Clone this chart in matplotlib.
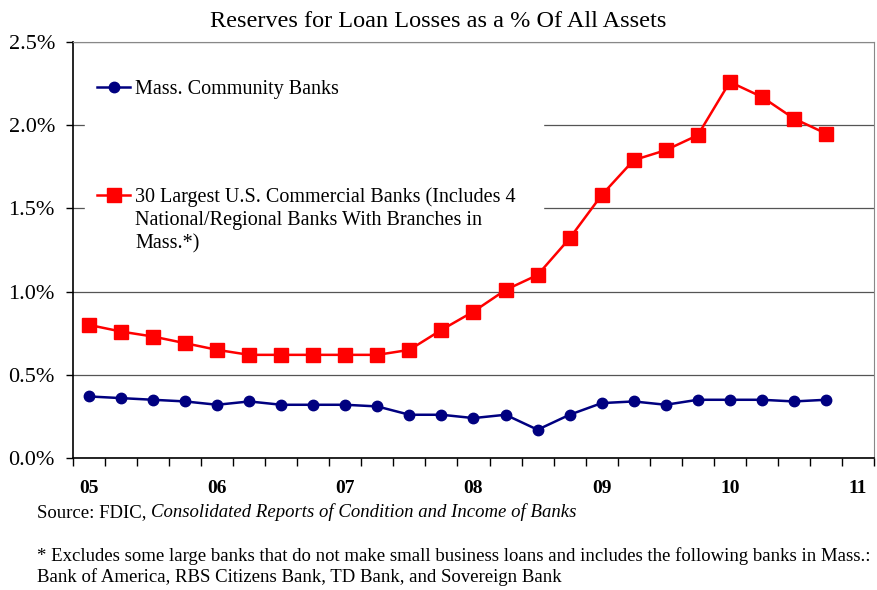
import numpy as np
import matplotlib
matplotlib.use("Agg")
import matplotlib.pyplot as plt
from matplotlib.ticker import FixedLocator, PercentFormatter

plt.rcParams["font.family"] = ["Liberation Serif", "DejaVu Serif"]

# quarterly, 2005 Q1 .. 2010 Q4
year_labels = ["05", "06", "07", "08", "09", "10", "11"]
community = [0.37, 0.36, 0.35, 0.34, 0.32, 0.34, 0.32, 0.32, 0.32, 0.31, 0.26, 0.26,
             0.24, 0.26, 0.17, 0.26, 0.33, 0.34, 0.32, 0.35, 0.35, 0.35, 0.34, 0.35]
largest30 = [0.80, 0.76, 0.73, 0.69, 0.65, 0.62, 0.62, 0.62, 0.62, 0.62, 0.65, 0.77,
             0.88, 1.01, 1.10, 1.32, 1.58, 1.79, 1.85, 1.94, 2.26, 2.17, 2.04, 1.95]
yticks = [0.0, 0.5, 1.0, 1.5, 2.0, 2.5]

NAVY = "#000080"
RED = "#ff0000"

fig = plt.figure(figsize=(8.77, 5.90), dpi=100)
ax = fig.add_axes([0.0832, 0.2237, 0.9134, 0.7051])

x = np.arange(len(community))
ax.plot(x, community, color=NAVY, lw=1.8, marker="o", ms=7.5,
        label="Mass. Community Banks", zorder=4)
ax.plot(x, largest30, color=RED, lw=1.8, marker="s", ms=10,
        label="30 Largest U.S. Commercial Banks (Includes 4\n"
              "National/Regional Banks With Branches in\nMass.*)", zorder=4)

ax.set_xlim(-0.5, len(community) + 0.5)
ax.set_ylim(0, 2.5)
ax.yaxis.set_major_locator(FixedLocator(yticks))
ax.yaxis.set_major_formatter(PercentFormatter(decimals=1))
ax.grid(axis="y", color="#555555", lw=0.9, zorder=1)

ax.set_xticks(np.arange(0, len(year_labels) * 4, 4))
ax.set_xticklabels(year_labels, fontweight="bold", fontsize=14)
ax.set_xticks(np.arange(-0.5, len(community) + 1, 1), minor=True)
ax.tick_params(axis="x", which="major", length=0, pad=16)
ax.tick_params(axis="x", which="minor", length=6, width=1, direction="out", color="black")
ax.tick_params(axis="y", length=5, width=1, direction="out", labelsize=16, pad=8)

for side in ("top", "right"):
    ax.spines[side].set_color("#888888")
for side in ("left", "bottom"):
    ax.spines[side].set_color("black")
    ax.spines[side].set_linewidth(1.2)

leg = ax.legend(loc="upper left", bbox_to_anchor=(0.015, 0.938, 0.572, 0.0),
                mode="expand", fontsize=14.5, frameon=True, fancybox=False,
                facecolor="white", edgecolor="white", framealpha=1,
                handlelength=1.65, handletextpad=0.25, labelspacing=4.4,
                borderpad=0.6, borderaxespad=0)
leg.set_zorder(3)
# put each legend sample next to the first line of its label
for col in leg._legend_handle_box.get_children():
    for row in col.get_children():
        row.align = "top"
for t in leg.get_texts():
    t.set_linespacing(1.3)

fig.suptitle("Reserves for Loan Losses as a % Of All Assets", y=0.982, fontsize=17.5)

src = fig.text(0.042, 0.123, "Source: FDIC, ", fontsize=13.5, va="baseline")
ax.annotate("Consolidated Reports of Condition and Income of Banks", xy=(1, 0),
            xycoords=src, va="bottom", fontsize=13.5, style="italic")
fig.text(0.042, 0.014,
         "* Excludes some large banks that do not make small business loans and includes the following banks in Mass.:\n"
         "Bank of America, RBS Citizens Bank, TD Bank, and Sovereign Bank",
         fontsize=13.5, va="baseline", linespacing=1.2)

fig.savefig("out.png", dpi=100)
